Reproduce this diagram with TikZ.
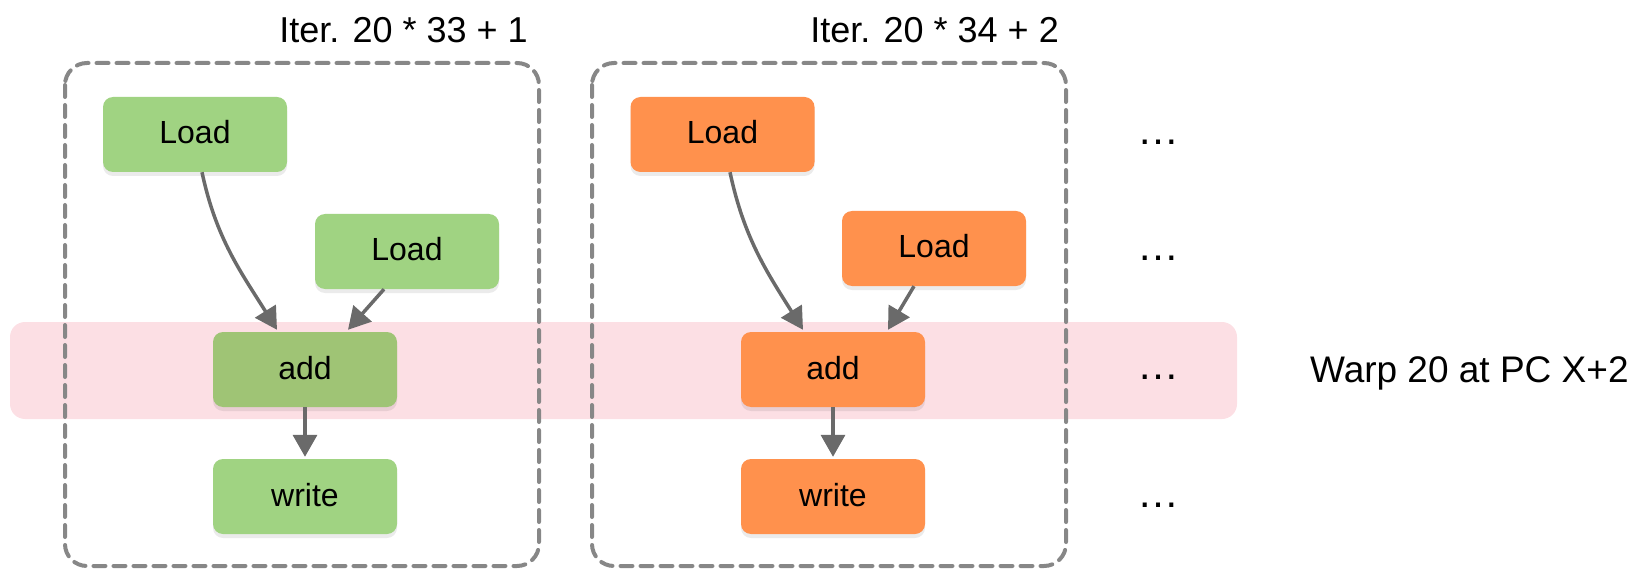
\documentclass[tikz,border=0pt]{standalone}
\usepackage{fontspec}
\setmainfont{Liberation Sans}
\usetikzlibrary{arrows.meta,shadows}
\definecolor{gLoad}{HTML}{A0D382}
\definecolor{gAdd}{HTML}{9FC475}
\definecolor{oFill}{HTML}{FF914D}
\definecolor{pinkband}{HTML}{FCDFE4}
\definecolor{dashgray}{HTML}{878787}
\definecolor{arrgray}{HTML}{6A6A6A}
\tikzset{
  op/.style={rounded corners=10pt, minimum width=184pt, minimum height=75pt,
    inner sep=0pt, text height=23pt, text depth=4pt,
    font=\fontsize{32}{38}\selectfont,
    drop shadow={shadow xshift=0pt, shadow yshift=-4pt, opacity=0.08, fill=black}},
  gop/.style={op, fill=gLoad},
  gadd/.style={op, fill=gAdd},
  oop/.style={op, fill=oFill},
  itbox/.style={draw=dashgray, line width=4pt, dash pattern=on 12pt off 8pt, rounded corners=22pt, line cap=round},
  flow/.style={draw=arrgray, line width=3.5pt, -{Triangle[length=22pt,width=24pt]}},
  ttl/.style={font=\fontsize{36}{43}\selectfont, inner sep=0pt},
  dots/.style={font=\fontsize{42}{50}\selectfont, inner sep=0pt, anchor=base},
}
\begin{document}
\begin{tikzpicture}[x=1pt,y=1pt]
\useasboundingbox (0,0) rectangle (1636,-572);
% pink band
\fill[pinkband, rounded corners=15pt] (10,-322) rectangle (1237,-419);
% dashed iteration boxes
\draw[itbox] (65,-63) rectangle (539,-566);
\draw[itbox] (592,-63) rectangle (1066,-566);
% titles
\node[ttl, anchor=base east] (t1) at (528,-43) {Iter. 20 * 33 + 1};
\node[ttl, anchor=base east] (t2) at (1059,-43) {Iter. 20 * 34 + 2};
% left iteration
\node[gop] (L1a) at (195,-134.5) {Load};
\node[gop] (L2a) at (407,-251.5) {Load};
\node[gadd] (adda) at (305,-369.5) {add};
\node[gop] (wra) at (305,-496.5) {write};
% right iteration
\node[oop] (L1b) at (722.5,-134.5) {Load};
\node[oop] (L2b) at (934,-248.5) {Load};
\node[oop] (addb) at (833,-369.5) {add};
\node[oop] (wrb) at (833,-496.5) {write};
% arrows
\draw[flow] ([xshift=7pt]L1a.south) to[out=-78,in=122] ([xshift=-28pt,yshift=2pt]adda.north);
\draw[flow] ([xshift=-23pt]L2a.south) -- ([xshift=43pt,yshift=2pt]adda.north);
\draw[flow] (adda.south) -- ([yshift=2pt]wra.north);
\draw[flow] ([xshift=7.5pt]L1b.south) to[out=-78,in=122] ([xshift=-30pt,yshift=2pt]addb.north);
\draw[flow] ([xshift=-20pt]L2b.south) -- ([xshift=55pt,yshift=2pt]addb.north);
\draw[flow] (addb.south) -- ([yshift=2pt]wrb.north);
% ellipses
\node[dots] (d1) at (1158,-145) {…};
\node[dots] (d2) at (1158,-260) {…};
\node[dots] (d3) at (1158,-379) {…};
\node[dots] (d4) at (1158,-507) {…};
% warp label
\node[ttl, anchor=base west, font=\fontsize{37}{44}\selectfont] (warp) at (1310,-382) {Warp 20 at PC X+2};
\end{tikzpicture}
\end{document}
